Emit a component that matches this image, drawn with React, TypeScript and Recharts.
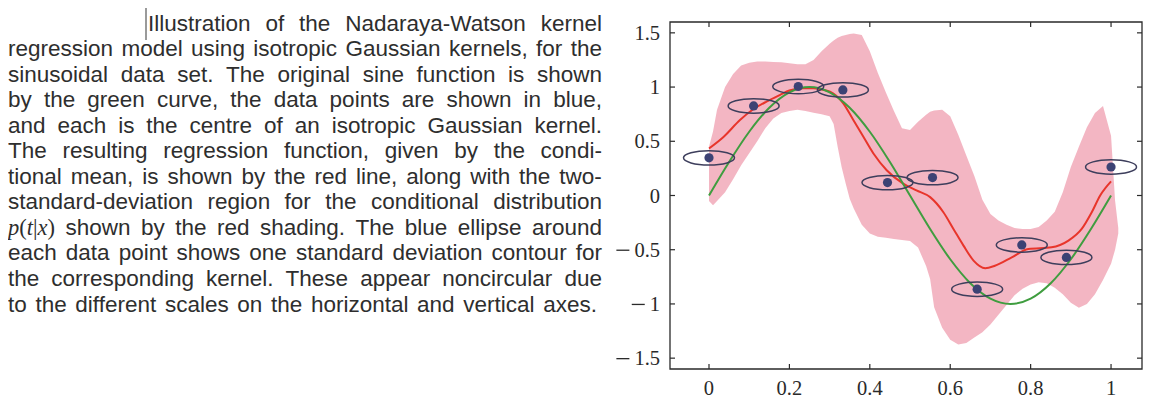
import React from 'react';
import { ComposedChart, Line, Area, Scatter, XAxis, YAxis, ReferenceArea } from 'recharts';

// ---------- data ----------
const xTicks = [0, 0.2, 0.4, 0.6, 0.8, 1];
const yTicks = [-1.5, -1, -0.5, 0, 0.5, 1, 1.5];

const pointX = [0, 0.111, 0.222, 0.333, 0.444, 0.556, 0.667, 0.778, 0.889, 1.0];
const pointT = [0.347, 0.826, 1.005, 0.974, 0.119, 0.165, -0.864, -0.456, -0.571, 0.263];

const sineX = [0, 0.05, 0.1, 0.15, 0.2, 0.25, 0.3, 0.35, 0.4, 0.45, 0.5, 0.55, 0.6, 0.65, 0.7, 0.75, 0.8, 0.85, 0.9, 0.95, 1.0];
const sineY = [0, 0.309, 0.588, 0.809, 0.951, 1.0, 0.951, 0.809, 0.588, 0.309, 0, -0.309, -0.588, -0.809, -0.951, -1.0, -0.951, -0.809, -0.588, -0.309, 0];

const meanX = [0, 0.036, 0.077, 0.11, 0.143, 0.177, 0.2, 0.235, 0.26, 0.284, 0.301, 0.334, 0.359, 0.384, 0.409, 0.442, 0.483, 0.516, 0.55, 0.583, 0.608, 0.633, 0.658, 0.687, 0.711, 0.753, 0.794, 0.852, 0.894, 0.927, 0.952, 0.973, 1.0];
const meanY = [0.434, 0.54, 0.696, 0.795, 0.866, 0.928, 0.968, 0.99, 0.99, 0.974, 0.958, 0.85, 0.696, 0.541, 0.387, 0.233, 0.109, 0.047, -0.015, -0.154, -0.308, -0.462, -0.6, -0.67, -0.648, -0.571, -0.493, -0.478, -0.416, -0.308, -0.154, 0.0, 0.13];

const bandX = [0, 0.01, 0.02, 0.04, 0.06, 0.08, 0.1, 0.12, 0.14, 0.16, 0.18, 0.2, 0.22, 0.24, 0.26, 0.28, 0.3, 0.31, 0.32, 0.33, 0.34, 0.35, 0.36, 0.38, 0.4, 0.42, 0.44, 0.46, 0.48, 0.5, 0.52, 0.54, 0.55, 0.56, 0.58, 0.6, 0.62, 0.64, 0.66, 0.68, 0.7, 0.72, 0.74, 0.76, 0.78, 0.8, 0.82, 0.84, 0.86, 0.88, 0.9, 0.92, 0.94, 0.96, 0.98, 1.0, 1.01, 1.018];
const bandHigh = [0.45, 0.59, 0.79, 1.0, 1.12, 1.2, 1.225, 1.236, 1.235, 1.232, 1.228, 1.22, 1.21, 1.21, 1.25, 1.33, 1.4, 1.43, 1.455, 1.47, 1.48, 1.49, 1.495, 1.48, 1.33, 1.13, 0.95, 0.78, 0.62, 0.603, 0.68, 0.745, 0.773, 0.785, 0.79, 0.73, 0.56, 0.37, 0.18, -0.04, -0.17, -0.23, -0.27, -0.3, -0.31, -0.31, -0.29, -0.23, -0.15, 0.03, 0.263, 0.45, 0.63, 0.76, 0.825, 0.55, -0.045, -0.3];
const bandLow = [-0.05, -0.09, -0.05, 0.03, 0.15, 0.28, 0.39, 0.5, 0.62, 0.71, 0.76, 0.78, 0.79, 0.78, 0.763, 0.75, 0.73, 0.66, 0.45, 0.26, 0.11, -0.03, -0.12, -0.27, -0.35, -0.38, -0.39, -0.4, -0.41, -0.42, -0.48, -0.65, -0.77, -1.03, -1.22, -1.33, -1.375, -1.36, -1.31, -1.26, -1.19, -1.1, -1.01, -0.92, -0.86, -0.82, -0.8, -0.81, -0.85, -0.91, -0.99, -1.035, -1.0, -0.91, -0.78, -0.63, -0.5, -0.35];

const captionLines = [
  'Illustration of the Nadaraya-Watson kernel',
  'regression model using isotropic Gaussian kernels, for the',
  'sinusoidal data set.  The original sine function is shown',
  'by the green curve, the data points are shown in blue,',
  'and each is the centre of an isotropic Gaussian kernel.',
  'The resulting regression function, given by the condi-',
  'tional mean, is shown by the red line, along with the two-',
  'standard-deviation region for the conditional distribution',
  '@PTX shown by the red shading. The blue ellipse around',
  'each data point shows one standard deviation contour for',
  'the corresponding kernel.  These appear noncircular due',
  'to the different scales on the horizontal and vertical axes.',
];

// ---------- tables for the library ----------
const points = pointX.map((x, i) => ({ x, t: pointT[i] }));
const sine = sineX.map((x, i) => ({ x, y: sineY[i] }));
const mean = meanX.map((x, i) => ({ x, y: meanY[i] }));
const band = bandX.map((x, i) => ({ x, range: [bandLow[i], bandHigh[i]] }));

// ---------- layout ----------
const X_MIN = -0.097;
const X_MAX = 1.077;
const Y_MIN = -1.6;
const Y_MAX = 1.6;
const CW = 550;
const CH = 392;
const M = { top: 14, right: 8, left: 0, bottom: 0 };
const YW = 70;
const XH = 31;
const PL = M.left + YW;
const PR = CW - M.right;
const PT = M.top;
const PB = CH - M.bottom - XH;
const INK = '#2a2a2a';
const TICK_FONT = '"Liberation Serif", "DejaVu Serif", "Times New Roman", serif';
const TICK_SIZE = 20.5;

// approximate advance width of a tick number in the serif font (digits 0.5em, point 0.25em)
const numWidth = (s: string) => s.split('').reduce((w, c) => w + (c === '.' ? 0.25 : 0.5), 0) * TICK_SIZE;

const YTick = (props: any) => {
  const { x, y, payload } = props;
  const v: number = payload.value;
  const neg = v < 0;
  const s = String(Math.abs(v));
  const mEnd = x - numWidth(s) - 5;
  return (
    <g>
      <line x1={PL} x2={PL + 5} y1={y} y2={y} stroke={INK} strokeWidth={1.2} />
      <line x1={PR - 5} x2={PR} y1={y} y2={y} stroke={INK} strokeWidth={1.2} />
      {neg ? <line x1={mEnd - 13} x2={mEnd} y1={y + 0.5} y2={y + 0.5} stroke={INK} strokeWidth={1.3} /> : null}
      <text x={x} y={y} dy={7} textAnchor="end" fontFamily={TICK_FONT} fontSize={TICK_SIZE} fill={INK}>
        {s}
      </text>
    </g>
  );
};

const XTick = (props: any) => {
  const { x, y, payload } = props;
  return (
    <g>
      <line x1={x} x2={x} y1={PB} y2={PB - 5} stroke={INK} strokeWidth={1.2} />
      <line x1={x} x2={x} y1={PT} y2={PT + 5} stroke={INK} strokeWidth={1.2} />
      <text x={x} y={y} dy={15.5} textAnchor="middle" fontFamily={TICK_FONT} fontSize={TICK_SIZE} fill={INK}>
        {String(payload.value)}
      </text>
    </g>
  );
};

const KernelShape = (props: any) => {
  const { cx, cy } = props;
  return (
    <g>
      <ellipse cx={cx} cy={cy} rx={25.5} ry={7.2} fill="none" stroke="#3d3e5c" strokeWidth={1.5} />
      <circle cx={cx} cy={cy} r={4.6} fill="#3c4274" />
    </g>
  );
};

const renderLine = (line: string, i: number) => {
  const words = line.split(/\s+/);
  const isLast = i === captionLines.length - 1;
  return (
    <div
      key={i}
      style={{
        position: 'absolute',
        left: i === 0 ? 140 : 0,
        width: i === 0 ? 454 : isLast ? 589 : 594,
        top: 2.5 + i * 25.55,
        height: 26,
        lineHeight: '26px',
        display: 'flex',
        justifyContent: 'space-between',
        whiteSpace: 'nowrap',
      }}
    >
      {words.map((w, j) =>
        w === '@PTX' ? (
          <span key={j} style={{ fontFamily: TICK_FONT }}>
            <i>p</i>(<i>t</i>|<i>x</i>)
          </span>
        ) : (
          <span key={j}>{w}</span>
        )
      )}
    </div>
  );
};

export default function App() {
  return (
    <div style={{ position: 'relative', width: 1136, height: 395, background: '#fff' }}>
      <div
        style={{
          position: 'absolute',
          left: 0,
          top: 0,
          width: 600,
          height: 320,
          fontFamily: '"Liberation Sans", Arial, Helvetica, sans-serif',
          fontSize: 22.5,
          color: '#2e2e2e',
        }}
      >
        <div style={{ position: 'absolute', left: 137, top: -2, width: 2, height: 34, background: '#9a9a9a' }} />
        {captionLines.map(renderLine)}
      </div>
      <div style={{ position: 'absolute', left: 592, top: 0 }}>
        <ComposedChart width={CW} height={CH} margin={M}>
          <XAxis
            dataKey="x"
            type="number"
            domain={[X_MIN, X_MAX]}
            allowDataOverflow
            ticks={xTicks}
            interval={0}
            height={XH}
            axisLine={false}
            tickLine={false}
            tickSize={6}
            tickMargin={4}
            tick={<XTick />}
          />
          <YAxis
            type="number"
            domain={[Y_MIN, Y_MAX]}
            allowDataOverflow
            ticks={yTicks}
            interval={0}
            width={YW}
            axisLine={false}
            tickLine={false}
            tickSize={6}
            tickMargin={4}
            tick={<YTick />}
          />
          <Area
            data={band}
            dataKey="range"
            type="linear"
            stroke="none"
            fill="#f0a6b6"
            fillOpacity={0.82}
            isAnimationActive={false}
            activeDot={false}
          />
          <Line data={mean} dataKey="y" type="monotone" stroke="#e8352b" strokeWidth={2} dot={false} isAnimationActive={false} activeDot={false} />
          <Line data={sine} dataKey="y" type="monotone" stroke="#3f9d3f" strokeWidth={2} dot={false} isAnimationActive={false} activeDot={false} />
          <Scatter data={points} dataKey="t" shape={<KernelShape />} isAnimationActive={false} />
          <ReferenceArea x1={X_MIN} x2={X_MAX} y1={Y_MIN} y2={Y_MAX} fill="none" stroke={INK} strokeWidth={1.3} ifOverflow="visible" />
        </ComposedChart>
      </div>
    </div>
  );
}
